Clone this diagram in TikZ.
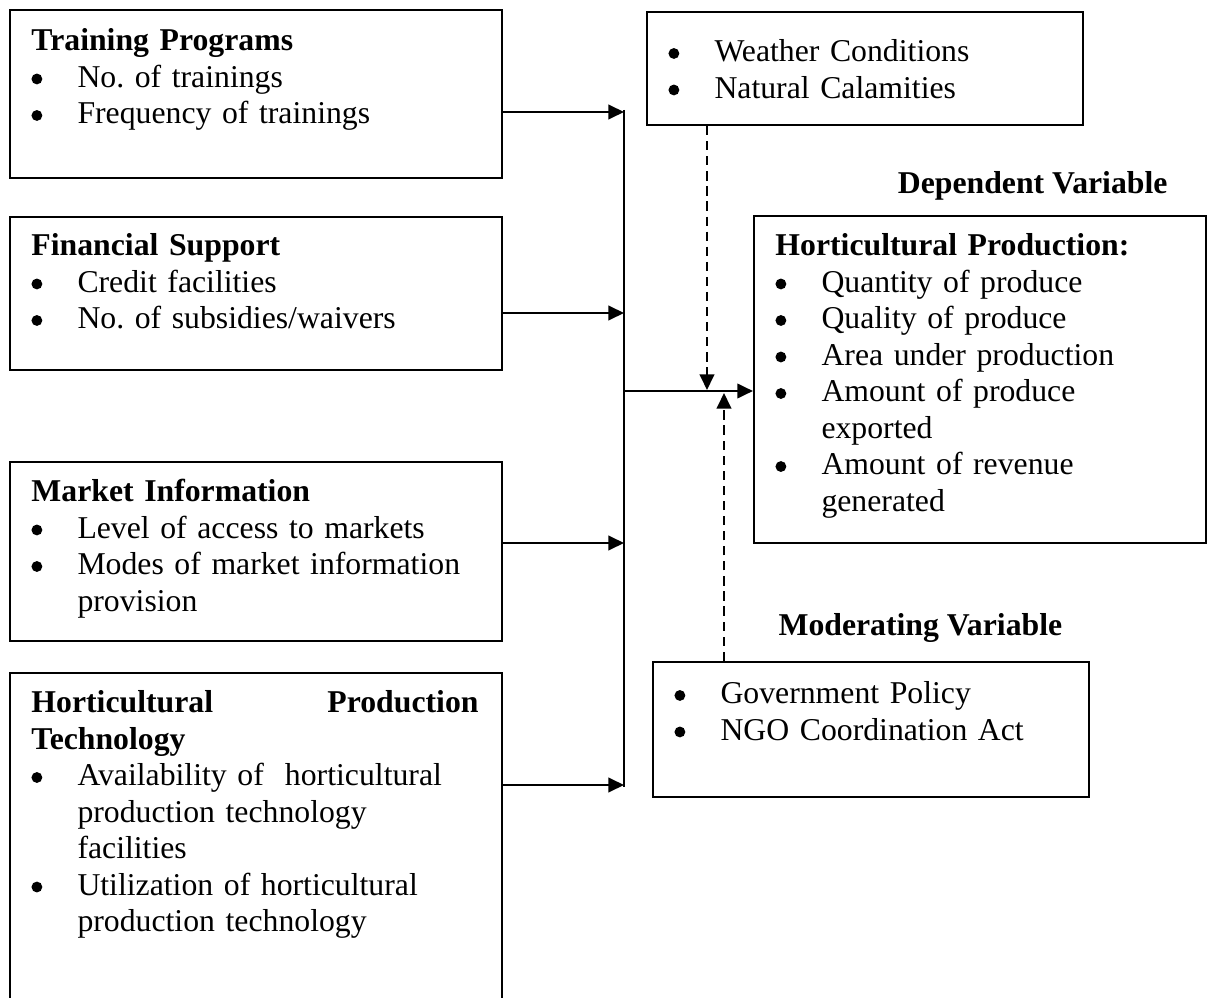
\documentclass[tikz,border=0pt]{standalone}
\usepackage{fontspec}
\setmainfont{Liberation Serif}
\usetikzlibrary{arrows.meta, calc, fit}
\frenchspacing
\newlength{\bulw}
\setlength{\bulw}{17.4pt}
\newcommand{\bulmark}{\tikz[baseline=0pt]\fill (2pt,3.2pt) circle[radius=2.05pt];}
\newcommand{\bul}[1]{\hangindent=\bulw\hangafter=1\makebox[\bulw][l]{\bulmark}#1\par}
\tikzset{
  box/.style   = {draw, line width=0.8pt, inner sep=0pt},
  txt/.style   = {anchor=base west, inner sep=0pt, align=left,
                  font=\fontsize{12}{13.8}\selectfont},
  lbl/.style   = {inner sep=0pt, font=\fontsize{12}{13.8}\selectfont\bfseries},
  wire/.style  = {line width=0.8pt},
  flow/.style  = {-{Triangle[length=5.9pt, width=5.5pt]}, line width=0.8pt},
  dflow/.style = {flow, dash pattern=on 3.5pt off 2.2pt},
}

\begin{document}
\begin{tikzpicture}[x=0.378pt,y=-0.378pt]
  \useasboundingbox (0,0) rectangle (1207,998);
  \clip (0,0) rectangle (1207,998);
  % independent variables
  \node[box, fit={(10,10) (502,178)}]   (train)  {};
  \node[box, fit={(10,217) (502,370)}]  (fin)    {};
  \node[box, fit={(10,462) (502,641)}]  (market) {};
  \node[box, fit={(10,673) (502,1004)}] (tech)   {};
  \node[txt, text width=169pt] (trainTxt) at ($(train.north west)+(22,42)$)
    {\textbf{Training Programs}\par
     \bul{No. of trainings}
     \bul{Frequency of trainings}};
  \node[txt, text width=169pt] (finTxt) at ($(fin.north west)+(22,40)$)
    {\textbf{Financial Support}\par
     \bul{Credit facilities}
     \bul{No. of subsidies/waivers}};
  \node[txt, text width=169pt] (marketTxt) at ($(market.north west)+(22,41)$)
    {\textbf{Market Information}\par
     \bul{Level of access to markets}
     \bul{Modes of market information\newline provision}};
  \node[txt, text width=169pt] (techTxt) at ($(tech.north west)+(22,41)$)
    {\hbox to\linewidth{\bfseries Horticultural\hfil Production}\par
     \textbf{Technology}\par
     \bul{Availability of\ \ horticultural\newline production technology\newline facilities}
     \bul{Utilization of horticultural\newline production technology}};
  % intervening, dependent, moderating
  \node[box, fit={(647,12) (1083,125)}]  (weather) {};
  \node[box, fit={(754,216) (1206,543)}] (hort)    {};
  \node[box, fit={(653,662) (1089,797)}] (gov)     {};
  \node[txt, text width=150pt] (weatherTxt) at ($(weather.north west)+(22,51)$)
    {\bul{Weather Conditions}
     \bul{Natural Calamities}};
  \node[txt, text width=155pt] (hortTxt) at ($(hort.north west)+(22,41)$)
    {\textbf{Horticultural Production:}\par
     \bul{Quantity of produce}
     \bul{Quality of produce}
     \bul{Area under production}
     \bul{Amount of produce\newline exported}
     \bul{Amount of revenue\newline generated}};
  \node[txt, text width=150pt] (govTxt) at ($(gov.north west)+(22,43)$)
    {\bul{Government Policy}
     \bul{NGO Coordination Act}};
  \node[lbl, anchor=base east] (depLbl) at (1168,193) {Dependent Variable};
  \node[lbl, anchor=base west] (modLbl) at (778,635) {Moderating Variable};
  % connectors
  \coordinate (busTop) at (624,110);
  \coordinate (busBot) at (624,787);
  \draw[wire] (busTop) -- (busBot);
  \foreach \src/\yy in {train/112, fin/313, market/543, tech/785}
    \draw[flow] (\src.east |- 0,\yy) -- (busTop |- 0,\yy);
  \coordinate (join) at (624,391);
  \draw[flow] (join) -- (join -| hort.west);
  \coordinate (dropIn) at (707,390);
  \draw[dflow] (weather.south -| dropIn) -- (dropIn);
  \coordinate (riseIn) at (724,393);
  \draw[dflow] (gov.north -| riseIn) -- (riseIn);
\end{tikzpicture}
\end{document}
